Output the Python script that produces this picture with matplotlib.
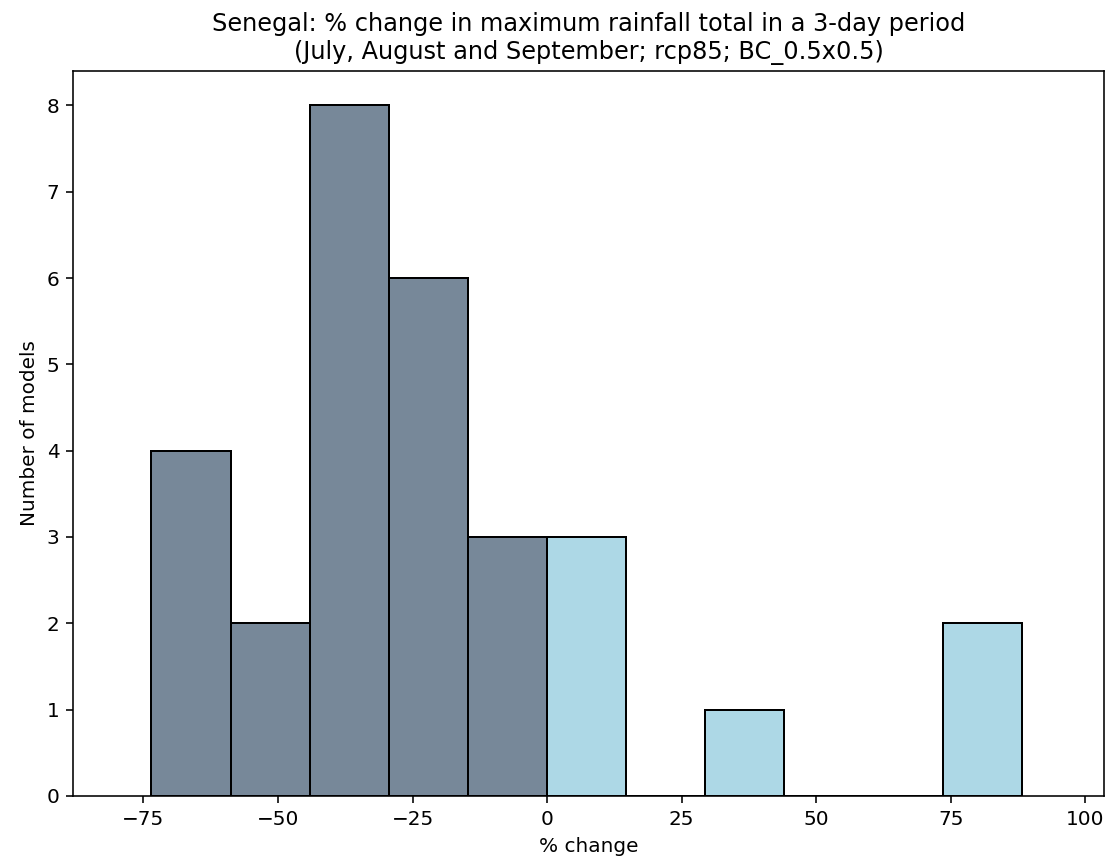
import matplotlib

matplotlib.use("Agg")
import matplotlib.pyplot as plt  # noqa: E402
import numpy as np  # noqa: E402

# histogram of model % changes (bin edges and counts)
bin_edges = [-73.5, -58.8, -44.1, -29.4, -14.7, 0.0, 14.7, 29.4, 44.1, 58.8, 73.5, 88.2]
counts = [4, 2, 8, 6, 3, 3, 0, 1, 0, 0, 2]

title = ("Senegal: % change in maximum rainfall total in a 3-day period\n"
         "(July, August and September; rcp85; BC_0.5x0.5)")
neg_color = "lightslategray"
pos_color = "lightblue"

edges = np.array(bin_edges)
lefts = edges[:-1]
widths = np.diff(edges)
colors = [neg_color if x < 0 else pos_color for x in lefts]

fig, ax = plt.subplots(figsize=(1112 / 144, 865 / 144), dpi=144)
ax.bar(lefts, counts, width=widths, align="edge", color=colors,
       edgecolor="black", linewidth=1.0)
ax.set_xlim(-88, 103.5)
ax.set_xticks([-75, -50, -25, 0, 25, 50, 75, 100])
ax.set_xlabel("% change")
ax.set_ylabel("Number of models")
ax.set_title(title)
fig.subplots_adjust(left=0.066, right=0.993, top=0.918, bottom=0.080)
fig.savefig("out.png", dpi=144)
plt.close(fig)
